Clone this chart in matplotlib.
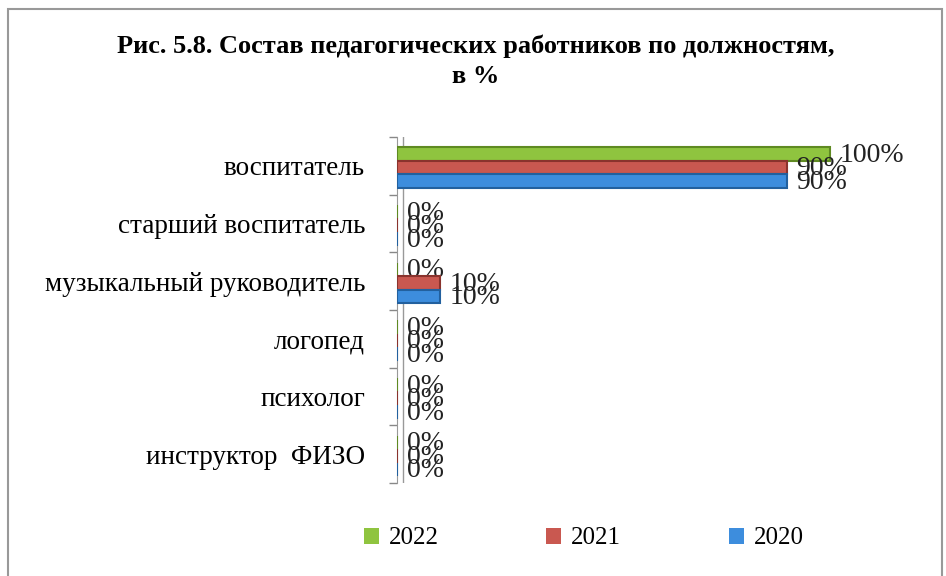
import numpy as np
import matplotlib.pyplot as plt
from matplotlib.patches import Rectangle

# data
categories = ["воспитатель", "старший воспитатель", "музыкальный руководитель",
              "логопед", "психолог", "инструктор  ФИЗО"]
years = ["2022", "2021", "2020"]
v2022 = [100, 0, 0, 0, 0, 0]
v2021 = [90, 0, 10, 0, 0, 0]
v2020 = [90, 0, 10, 0, 0, 0]

colors = ["#8fc43f", "#c95850", "#3d8ddd"]
edges = ["#5f8a22", "#8a332d", "#22609e"]

plt.rcParams['font.family'] = ['Liberation Serif', 'DejaVu Serif']

fig = plt.figure(figsize=(9.46, 5.76), dpi=100)
ax = fig.add_axes([397 / 946, 1 - 483 / 576, 498 / 946, 346 / 576])

y = np.arange(len(categories))
h = 0.235
series = [v2022, v2021, v2020]
offsets = [-h, 0, h]
for vals, off, c, ec, lab in zip(series, offsets, colors, edges, years):
    bars = ax.barh(y + off + 0.03, vals, height=h, color=c, edgecolor=ec,
                   linewidth=1.5, label=lab, zorder=3)
    for b, v in zip(bars, vals):
        ax.annotate(f"{v}%", (b.get_width(), b.get_y() + b.get_height() / 2),
                    xytext=(7, -1), textcoords="offset points",
                    va="center", ha="left", fontsize=20, color="#222222")

ax.set_xlim(0, 115)
ax.set_ylim(len(categories) - 0.5, -0.5)
ax.set_yticks(y)
ax.set_yticklabels(categories, fontsize=19.5)
ax.tick_params(axis="y", length=0, pad=23)
ax.set_yticks(np.arange(len(categories) + 1) - 0.5, minor=True)
ax.tick_params(axis="y", which="minor", length=6, color="#888888", width=1)
ax.set_xticks([])
for s in ["top", "right", "bottom"]:
    ax.spines[s].set_visible(False)
ax.spines["left"].set_color("#999999")
# back wall of the 3D frame
ax.axvline(1.4, color="#999999", lw=1, zorder=1)

fig.suptitle("Рис. 5.8. Состав педагогических работников по должностям,\nв %",
             x=0.503, y=0.94, fontsize=19, fontweight="bold", linespacing=1.4)

leg = fig.legend(loc="lower center", bbox_to_anchor=(0.617, 0.007), ncol=3,
                 frameon=False, fontsize=18, handlelength=0.6, handleheight=0.6,
                 handletextpad=0.4, columnspacing=4.3)
for hnd in leg.legend_handles:
    hnd.set_linewidth(0)

fig.patches.append(Rectangle((8 / 946, -0.05), 934 / 946, 1 - 9 / 576 + 0.05,
                             transform=fig.transFigure, fill=False,
                             edgecolor="#999999", lw=1.5))

plt.savefig("out.png", dpi=100)
